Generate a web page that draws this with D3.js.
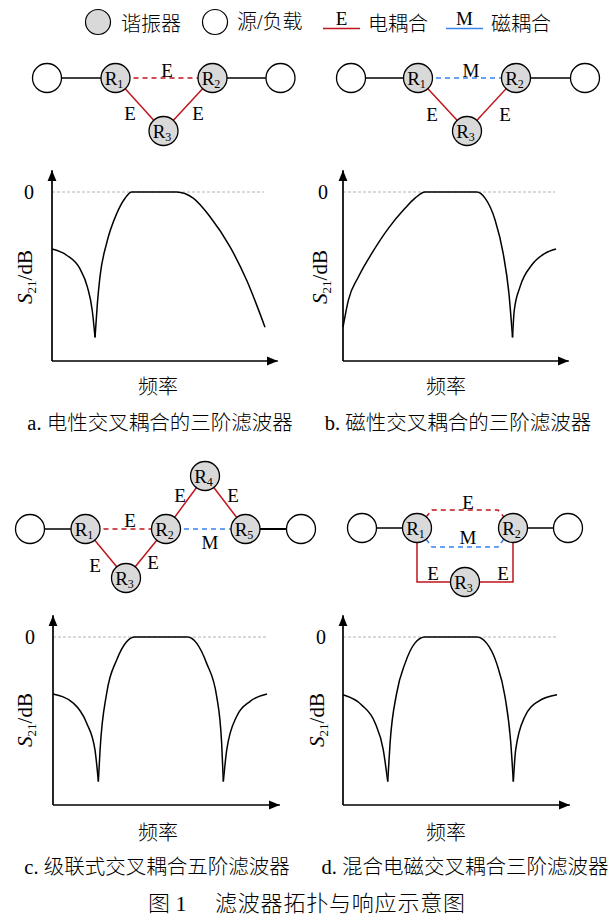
<!DOCTYPE html>
<html><head><meta charset="utf-8">
<script src="https://cdn.jsdelivr.net/npm/d3@7"></script>
<style>body{margin:0;background:#fff} svg{display:block}</style>
</head><body>
<svg id="c" width="615" height="920"></svg>
<script>
// ---- data: normalised frequency (0-100) vs S21 (dB), split at transmission zeros ----
const respA = [
  [[0,-15.7],[6.9,-17.4],[13.1,-21.1],[16.6,-26.1],[18.9,-32.6],[20.2,-40]],
  [[20.2,-40],[21.3,-30.7],[22.5,-23.4],[25.6,-14.2],[30.4,-5.9],[34.3,-1.7],[37.4,0],[58.5,0],[66.3,-1.7],[74.2,-6.8],[83.6,-15.1],[91.4,-24.3],[100,-37.2]]
];
const respB = [
  [[0,-37.2],[2.5,-29.8],[7.2,-23.4],[13.5,-16.9],[21.3,-10],[29.1,-4.5],[33.8,-1.7],[38.5,0],[62.8,0],[66.7,-1.7],[71.4,-7.7],[75.2,-16.9],[77.9,-27.9],[79.6,-40]],
  [[79.6,-40],[80.4,-32.6],[83.1,-26.1],[88.6,-20.1],[94.8,-16.9],[100,-15.7]]
];
const respC = [
  [[0,-15.8],[9.5,-18.3],[15.7,-23.8],[19.6,-31.2],[21.2,-40]],
  [[21.2,-40],[22,-31.2],[25.1,-15.5],[29.8,-6.3],[34.4,-1.3],[38.3,0],[62.8,0],[67.1,-1.7],[71.8,-7.3],[76.5,-16.5],[78.8,-29.3],[79.6,-40]],
  [[79.6,-40],[81.2,-31.2],[85.8,-22],[92.1,-17.8],[100,-15.8]]
];
const respD = [
  [[0,-16],[8.7,-18.8],[15,-23.8],[18.8,-31.2],[20.9,-40]],
  [[20.9,-40],[22,-29.3],[25.1,-15.5],[29,-7.3],[33.6,-1.7],[38.3,0],[62.5,0],[67.1,-1.7],[71.8,-7.3],[75.7,-16.5],[78.4,-29.3],[79.6,-40]],
  [[79.6,-40],[80.7,-31.2],[85,-22],[91.3,-17.8],[100,-16]]
];
const yTicks = [0];
const xLabel = "频率";
const captions = ["a. 电性交叉耦合的三阶滤波器","b. 磁性交叉耦合的三阶滤波器","c. 级联式交叉耦合五阶滤波器","d. 混合电磁交叉耦合三阶滤波器"];
const titleNum = "图 1";
const titleText = "滤波器拓扑与响应示意图";
const legendLabels = ["谐振器","源/负载","电耦合","磁耦合"];
const couplingSymbols = ["E","M"];

// ---- drawing ----
const RED = "#c0141c", BLUE = "#3a84f0", GRAYFILL = "#d9d9d9";
const SERIF = "'Liberation Serif','Times New Roman',serif";
const MIX = "'Liberation Serif','Noto Sans CJK SC',serif";
const CJK = "'Noto Sans CJK SC',sans-serif";
const CJKW = 300;
const svg = d3.select("#c");
svg.append("rect").attr("width",615).attr("height",920).attr("fill","#fff");
const defs = svg.append("defs");
defs.append("marker").attr("id","arr").attr("viewBox","0 -5 11 10").attr("refX",11).attr("refY",0)
  .attr("markerWidth",11).attr("markerHeight",10).attr("markerUnits","userSpaceOnUse").attr("orient","auto")
  .append("path").attr("d","M0,-4.5L11,0L0,4.5Z").attr("fill","#000");

// legend
const lg = svg.append("g");
function ltext(x,s,fam){
  lg.append("text").attr("x",x).attr("y",22).attr("dominant-baseline","central").attr("font-family",fam)
    .attr("font-weight",CJKW).attr("font-size",20).text(s);
}
lg.append("circle").attr("cx",98).attr("cy",22).attr("r",12.5).attr("fill",GRAYFILL).attr("stroke","#000").attr("stroke-width",1.2);
ltext(121,legendLabels[0],CJK);
lg.append("circle").attr("cx",215).attr("cy",22).attr("r",12.5).attr("fill","#fff").attr("stroke","#000").attr("stroke-width",1.2);
ltext(237,legendLabels[1],MIX);
lg.append("line").attr("x1",323).attr("x2",360).attr("y1",28.5).attr("y2",28.5).attr("stroke",RED).attr("stroke-width",1.5);
lg.append("text").attr("x",341.5).attr("y",25).attr("text-anchor","middle").attr("font-family",SERIF).attr("font-size",19).text(couplingSymbols[0]);
ltext(368,legendLabels[2],CJK);
lg.append("line").attr("x1",446).attr("x2",483).attr("y1",28.5).attr("y2",28.5).attr("stroke",BLUE).attr("stroke-width",1.5);
lg.append("text").attr("x",464.5).attr("y",25).attr("text-anchor","middle").attr("font-family",SERIF).attr("font-size",19).text(couplingSymbols[1]);
ltext(491,legendLabels[3],CJK);

// topology helpers
function edge(g,a,b,color,dashed,w){
  g.append("line").attr("x1",a[0]).attr("y1",a[1]).attr("x2",b[0]).attr("y2",b[1])
   .attr("stroke",color).attr("stroke-width",w||1.5).attr("stroke-dasharray",dashed?"5,4":null);
}
function poly(g,pts,color,dashed){
  g.append("path").attr("d",d3.line()(pts)).attr("fill","none").attr("stroke",color).attr("stroke-width",1.5)
   .attr("stroke-dasharray",dashed?"5,4":null);
}
function port(g,p){
  g.append("circle").attr("cx",p[0]).attr("cy",p[1]).attr("r",14.5).attr("fill","#fff").attr("stroke","#000").attr("stroke-width",1.3);
}
function res(g,p,i){
  g.append("circle").attr("cx",p[0]).attr("cy",p[1]).attr("r",14.5).attr("fill",GRAYFILL).attr("stroke","#000").attr("stroke-width",1.3);
  const t=g.append("text").attr("x",p[0]-1.5).attr("y",p[1]+6.5).attr("text-anchor","middle").attr("font-family",SERIF).attr("font-size",19);
  t.append("tspan").text("R");
  t.append("tspan").attr("font-size",12).attr("dy",3).text(i);
}
function lab(g,x,y,s){
  g.append("text").attr("x",x).attr("y",y+6.5).attr("text-anchor","middle").attr("font-family",SERIF).attr("font-size",19).text(s);
}

// panel a topology
{
  const g=svg.append("g");
  const S=[47,78],R1=[115.5,78],R2=[212.5,78],R3=[163.5,131],L=[280.5,78];
  edge(g,S,R1,"#000");edge(g,R2,L,"#000");
  edge(g,R1,R2,RED,true);edge(g,R1,R3,RED);edge(g,R3,R2,RED);
  port(g,S);port(g,L);res(g,R1,1);res(g,R2,2);res(g,R3,3);
  lab(g,167,70,"E");lab(g,130,113,"E");lab(g,198,113,"E");
}
// panel b topology
{
  const g=svg.append("g");
  const S=[351,78],R1=[418,78],R2=[516,78],R3=[467,131],L=[585,78];
  edge(g,S,R1,"#000");edge(g,R2,L,"#000");
  edge(g,R1,R2,BLUE,true);edge(g,R1,R3,RED);edge(g,R3,R2,RED);
  port(g,S);port(g,L);res(g,R1,1);res(g,R2,2);res(g,R3,3);
  lab(g,471,70,"M");lab(g,432,114,"E");lab(g,505,114,"E");
}
// panel c topology
{
  const g=svg.append("g");
  const S=[30,529],R1=[85.5,529],R2=[166,529],R3=[126,578],R4=[205,476],R5=[245.5,529],L=[301,529];
  edge(g,S,R1,"#000");edge(g,R5,L,"#000",false,2);
  edge(g,R1,R2,RED,true);edge(g,R2,R5,BLUE,true);
  edge(g,R1,R3,RED);edge(g,R3,R2,RED);edge(g,R2,R4,RED);edge(g,R4,R5,RED);
  port(g,S);port(g,L);res(g,R1,1);res(g,R2,2);res(g,R3,3);res(g,R4,4);res(g,R5,5);
  lab(g,130,520,"E");lab(g,210,542,"M");lab(g,180,495,"E");lab(g,233,495,"E");lab(g,95,565,"E");lab(g,153,562,"E");
}
// panel d topology
{
  const g=svg.append("g");
  const S=[362,528],R1=[417,528],R2=[513,528],R3=[465,582],L=[568,528];
  edge(g,S,R1,"#000");edge(g,R2,L,"#000");
  poly(g,[[R1[0]+9,R1[1]-11],[R1[0]+15,510],[R2[0]-15,510],[R2[0]-9,R2[1]-11]],RED,true);
  poly(g,[[R1[0]+9,R1[1]+11],[R1[0]+15,547],[R2[0]-15,547],[R2[0]-9,R2[1]+11]],BLUE,true);
  poly(g,[R1,[R1[0],R3[1]],[R2[0],R3[1]],R2],RED,false);
  port(g,S);port(g,L);res(g,R1,1);res(g,R2,2);res(g,R3,3);
  lab(g,468,502,"E");lab(g,468,537,"M");lab(g,433,573,"E");lab(g,503,573,"E");
}

// response panels
const panels = [
  {resp:respA,x0:52,x1:265,zeroY:192,botY:361,lblX:32,lblY:277,fX:158,fY:385,pad:18},
  {resp:respB,x0:343,x1:556,zeroY:192,botY:361,lblX:327,lblY:277,fX:446,fY:385,pad:15},
  {resp:respC,x0:53,x1:267,zeroY:637,botY:805,lblX:32,lblY:720,fX:158,fY:831,pad:18},
  {resp:respD,x0:343,x1:557,zeroY:637,botY:805,lblX:324,lblY:720,fX:446,fY:831,pad:17}
];
panels.forEach(p=>{
  const x=d3.scaleLinear().domain([0,100]).range([p.x0,p.x1]);
  const y=d3.scaleLinear().domain([-46.5,0]).range([p.botY,p.zeroY]);
  const g=svg.append("g");
  g.append("line").attr("x1",x(0)).attr("x2",x(99.6)).attr("y1",y(0)).attr("y2",y(0))
    .attr("stroke","#b3b3b3").attr("stroke-width",1).attr("stroke-dasharray","3,2");
  g.append("line").attr("x1",x(0)).attr("y1",y(-46.5)).attr("x2",x(106)).attr("y2",y(-46.5))
    .attr("stroke","#000").attr("stroke-width",1.7).attr("marker-end","url(#arr)");
  g.append("line").attr("x1",x(0)).attr("y1",y(-46.5)).attr("x2",x(0)).attr("y2",y(6))
    .attr("stroke","#000").attr("stroke-width",1.7).attr("marker-end","url(#arr)");
  const ax=g.append("g").attr("transform",`translate(${x(0)},0)`)
    .call(d3.axisLeft(y).tickValues(yTicks).tickSize(0).tickPadding(p.pad).tickFormat(d3.format("d")));
  ax.select(".domain").remove();
  ax.attr("font-size",20).attr("font-family",SERIF);
  ax.selectAll("text").attr("fill","#000");
  const line=d3.line().x(d=>x(d[0])).y(d=>y(d[1])).curve(d3.curveMonotoneX);
  p.resp.forEach(seg=>{
    g.append("path").attr("d",line(seg)).attr("fill","none").attr("stroke","#000").attr("stroke-width",1.5);
  });
  const yl=g.append("text").attr("transform",`translate(${p.lblX},${p.lblY}) rotate(-90)`)
    .attr("text-anchor","middle").attr("font-family",SERIF).attr("font-size",21);
  yl.append("tspan").attr("font-style","italic").text("S");
  yl.append("tspan").attr("font-size",13).attr("dy",4).text("21");
  yl.append("tspan").attr("dy",-4).text("/dB");
  g.append("text").attr("x",p.fX).attr("y",p.fY).attr("text-anchor","middle").attr("dominant-baseline","central")
    .attr("font-family",CJK).attr("font-weight",CJKW).attr("font-size",20).text(xLabel);
});

// captions
const capPos=[[160,423],[458,423],[157,867],[465,867]];
captions.forEach((c,i)=>{
  svg.append("text").attr("x",capPos[i][0]).attr("y",capPos[i][1]).attr("text-anchor","middle")
    .attr("dominant-baseline","central").attr("font-family",MIX).attr("font-weight",CJKW).attr("font-size",20.5).text(c);
});
svg.append("text").attr("x",148).attr("y",903).attr("dominant-baseline","central").attr("font-family",MIX).attr("font-weight",CJKW).attr("font-size",22).text(titleNum);
svg.append("text").attr("x",215).attr("y",903).attr("dominant-baseline","central").attr("font-family",MIX).attr("font-weight",CJKW).attr("font-size",22)
  .attr("textLength",250).attr("lengthAdjust","spacing").text(titleText);
</script>
</body></html>
